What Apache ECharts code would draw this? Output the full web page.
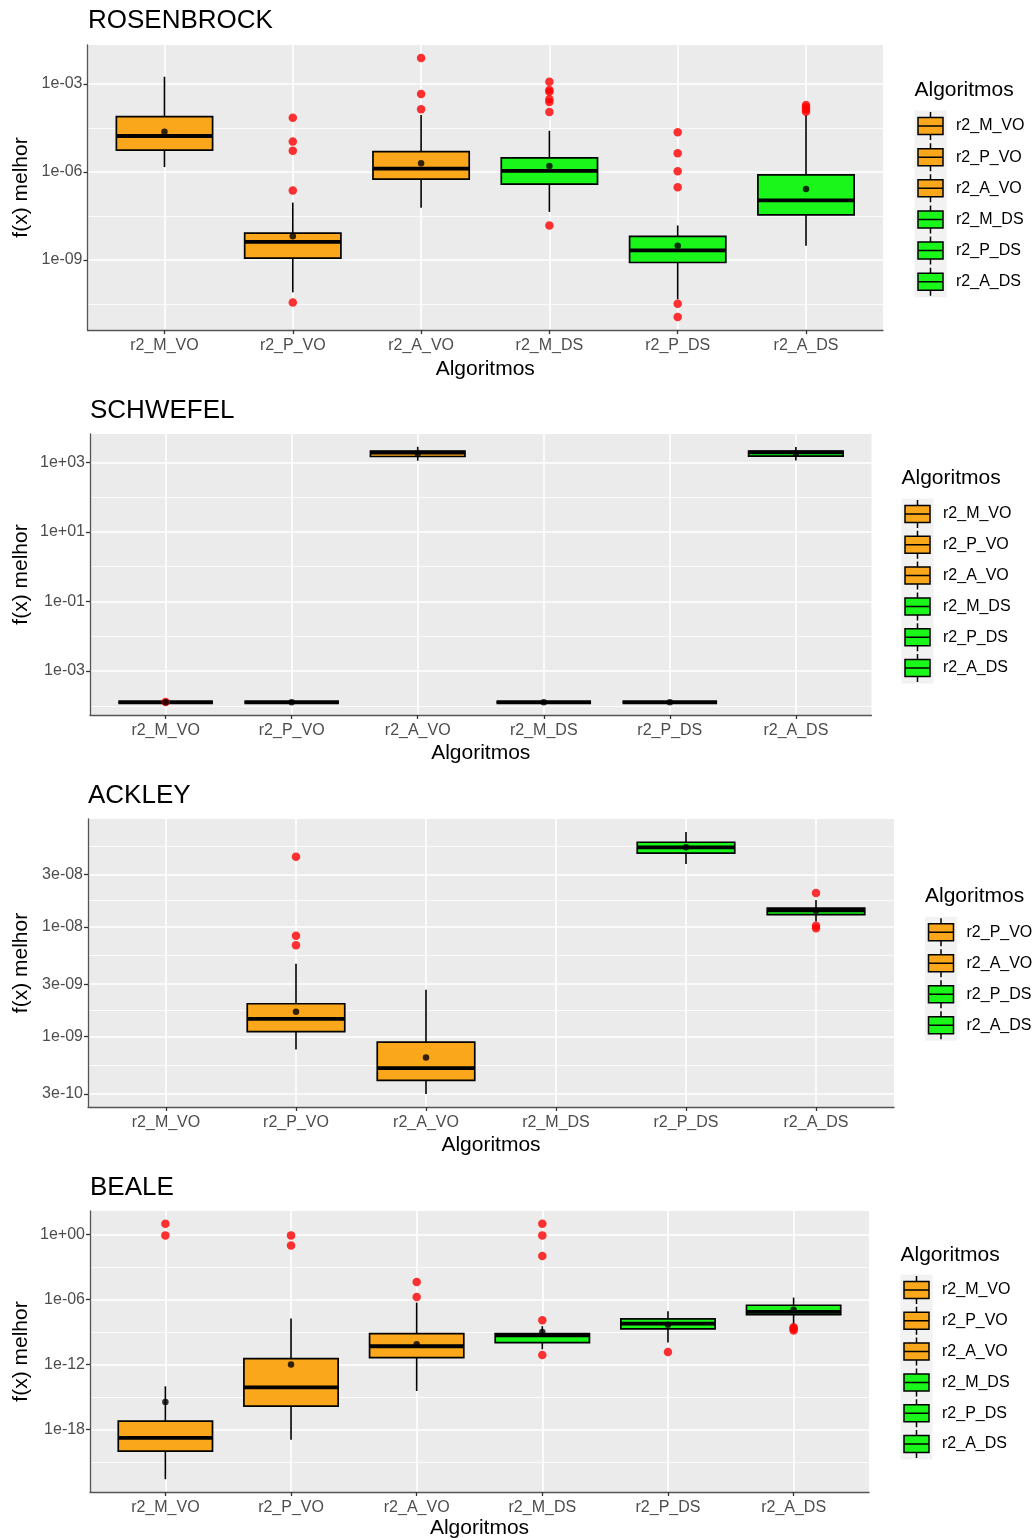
<!DOCTYPE html>
<html>
<head>
<meta charset="utf-8">
<script src="https://cdn.jsdelivr.net/npm/echarts@6/dist/echarts.min.js"></script>
<style>
  html, body { margin: 0; padding: 0; background: #ffffff; }
  #chart { width: 1032px; height: 1539px; }
</style>
</head>
<body>
<div id="chart"></div>
<script>
// ---- data -------------------------------------------------------------
const algorithms = ['r2_M_VO', 'r2_P_VO', 'r2_A_VO', 'r2_M_DS', 'r2_P_DS', 'r2_A_DS'];
const fills = ['#FBA71B', '#FBA71B', '#FBA71B', '#1AF51A', '#1AF51A', '#1AF51A'];

// each box: [lower whisker, Q1, median, Q3, upper whisker]
const rosenbrockBoxes = [
  [1.45e-6, 5.5e-6, 1.66e-5, 7.6e-5, 1.74e-3],
  [7.8e-11, 1.15e-9, 4.1e-9, 8.1e-9, 8.9e-8],
  [6.0e-8, 5.6e-7, 1.29e-6, 4.9e-6, 8.7e-5],
  [4.3e-8, 3.8e-7, 1.07e-6, 3.0e-6, 2.5e-5],
  [4.5e-11, 8.1e-10, 2.1e-9, 6.3e-9, 1.48e-8],
  [3.0e-9, 3.4e-8, 1.07e-7, 7.8e-7, 8.7e-5]
];
const rosenbrockMeans = [2.3e-5, 6.3e-9, 1.95e-6, 1.58e-6, 3.0e-9, 2.6e-7];
const rosenbrockOutliers = [
  [],
  [6.9e-5, 1.07e-5, 5.2e-6, 2.3e-7, 3.5e-11],
  [7.6e-3, 4.5e-4, 1.35e-4],
  [1.17e-3, 6.2e-4, 5.4e-4, 2.95e-4, 2.4e-4, 1.1e-4, 1.48e-8],
  [2.24e-5, 4.3e-6, 1.05e-6, 3.0e-7, 3.2e-11, 1.12e-11],
  [1.9e-4, 1.58e-4, 1.32e-4, 1.12e-4]
];
const rosenbrockTicks = [1e0, 1e-3, 1e-6, 1e-9, 1e-12];
const rosenbrockTickLabels = ['1e+00', '1e-03', '1e-06', '1e-09', '1e-12'];

const schwefelBoxes = [
  [1.27e-4, 1.27e-4, 1.27e-4, 1.27e-4, 1.27e-4],
  [1.27e-4, 1.27e-4, 1.27e-4, 1.27e-4, 1.27e-4],
  [1.11e3, 1.47e3, 1.90e3, 2.11e3, 2.80e3],
  [1.27e-4, 1.27e-4, 1.27e-4, 1.27e-4, 1.27e-4],
  [1.27e-4, 1.27e-4, 1.27e-4, 1.27e-4, 1.27e-4],
  [1.12e3, 1.50e3, 1.92e3, 2.10e3, 2.75e3]
];
const schwefelMeans = [1.27e-4, 1.27e-4, 1.79e3, 1.27e-4, 1.27e-4, 1.80e3];
const schwefelOutliers = [[1.28e-4], [], [], [], [], []];
const schwefelTicks = [1e5, 1e3, 1e1, 1e-1, 1e-3, 1e-5];
const schwefelTickLabels = ['1e+05', '1e+03', '1e+01', '1e-01', '1e-03', '1e-05'];

const ackleyBoxes = [
  null,
  [7.6e-10, 1.11e-9, 1.45e-9, 1.99e-9, 4.6e-9],
  [3.0e-10, 3.98e-10, 5.15e-10, 8.9e-10, 2.67e-9],
  null,
  [3.73e-8, 4.7e-8, 5.3e-8, 5.9e-8, 7.3e-8],
  [1.12e-8, 1.29e-8, 1.41e-8, 1.48e-8, 1.76e-8]
];
const ackleyMeans = [null, 1.68e-9, 6.45e-10, null, 5.3e-8, 1.4e-8];
const ackleyOutliers = [[], [4.35e-8, 8.3e-9, 6.8e-9], [], [], [], [2.03e-8, 1.02e-8, 9.7e-9]];
const ackleyTicks = [1e-7, 3e-8, 1e-8, 3e-9, 1e-9, 3e-10, 1e-10];
const ackleyTickLabels = ['1e-07', '3e-08', '1e-08', '3e-09', '1e-09', '3e-10', '1e-10'];

const bealeBoxes = [
  [2.75e-23, 1.07e-20, 1.8e-19, 6.3e-18, 1.0e-14],
  [1.2e-19, 1.5e-16, 7.9e-15, 3.5e-12, 1.78e-8],
  [3.7e-15, 4.4e-12, 4.9e-11, 7.2e-10, 5.2e-7],
  [2.6e-11, 1.07e-10, 5.0e-10, 7.2e-10, 3.5e-9],
  [1.07e-10, 1.95e-9, 6.0e-9, 1.62e-8, 8.3e-8],
  [4.0e-9, 4.1e-8, 7.2e-8, 2.95e-7, 1.5e-6]
];
const bealeMeans = [3.5e-16, 1.0e-12, 7.4e-11, 1.0e-9, 4.6e-9, 1.15e-7];
const bealeOutliers = [
  [9.5, 0.81],
  [0.81, 0.095],
  [4.0e-5, 1.74e-6],
  [9.5, 0.81, 0.01, 1.23e-8, 7.8e-12],
  [1.45e-11],
  [2.8e-9, 2.0e-9, 1.4e-9]
];
const bealeTicks = [1e6, 1e0, 1e-6, 1e-12, 1e-18, 1e-24];
const bealeTickLabels = ['1e+06', '1e+00', '1e-06', '1e-12', '1e-18', '1e-24'];

// ---- layout -------------------------------------------------------------
const FONT = '"Liberation Sans", Arial, Helvetica, sans-serif';
const BOX_WIDTH = 0.75;
const KEY_W = 25, KEY_H = 28, KEY_STROKE = 1.5;
// legend key: whiskers, box split by the median line
const KEY_ICON = 'path://M12.5,0V5.5M0,5.5H25V14H0ZM0,14H25V22.5H0ZM12.5,22.5V28';

const panels = [
  { title: 'ROSENBROCK', boxes: rosenbrockBoxes, means: rosenbrockMeans, outliers: rosenbrockOutliers,
    ticks: rosenbrockTicks, tickLabels: rosenbrockTickLabels,
    left: 87.5, right: 883, top: 45, bottom: 330, titleX: 88, titleY: 21, xTitleY: 369,
    legendX: 914.5, legendTitleY: 90, keyY: 126, keyStep: 31.15 },
  { title: 'SCHWEFEL', boxes: schwefelBoxes, means: schwefelMeans, outliers: schwefelOutliers,
    ticks: schwefelTicks, tickLabels: schwefelTickLabels,
    left: 90, right: 871.5, top: 434, bottom: 715, titleX: 90, titleY: 411, xTitleY: 753,
    legendX: 901.5, legendTitleY: 478, keyY: 514, keyStep: 30.8 },
  { title: 'ACKLEY', boxes: ackleyBoxes, means: ackleyMeans, outliers: ackleyOutliers,
    ticks: ackleyTicks, tickLabels: ackleyTickLabels,
    left: 88, right: 894, top: 819, bottom: 1107, titleX: 88, titleY: 796, xTitleY: 1145,
    legendX: 925, legendTitleY: 896, keyY: 932.3, keyStep: 31 },
  { title: 'BEALE', boxes: bealeBoxes, means: bealeMeans, outliers: bealeOutliers,
    ticks: bealeTicks, tickLabels: bealeTickLabels,
    left: 90, right: 869, top: 1211, bottom: 1492, titleX: 90, titleY: 1188, xTitleY: 1528,
    legendX: 900.5, legendTitleY: 1255, keyY: 1290, keyStep: 30.8 }
];

// y range in log10 units, padded 5% like the default continuous scale
function logRange(p) {
  const vals = [];
  p.boxes.forEach(b => { if (b) vals.push(...b); });
  p.means.forEach(m => { if (m != null) vals.push(m); });
  p.outliers.forEach(o => vals.push(...o));
  const logs = vals.map(Math.log10);
  const lo = Math.min(...logs), hi = Math.max(...logs);
  const pad = (hi - lo) * 0.05;
  return [lo - pad, hi + pad];
}

function renderBox(params, api) {
  const x = api.value(0);
  const ys = [1, 2, 3, 4, 5].map(d => api.coord([x, api.value(d)])[1]);
  const cx = api.coord([x, api.value(3)])[0];
  const half = api.size([BOX_WIDTH, 0])[0] / 2;
  const color = api.visual('color');
  const seg = (x1, y1, x2, y2, w) => ({
    type: 'line', shape: { x1, y1, x2, y2 }, style: { stroke: '#000000', lineWidth: w }
  });
  return {
    type: 'group',
    children: [
      seg(cx, ys[4], cx, ys[3], 1.6),
      seg(cx, ys[1], cx, ys[0], 1.6),
      { type: 'rect', shape: { x: cx - half, y: ys[3], width: 2 * half, height: ys[1] - ys[3] },
        style: { fill: color, stroke: '#000000', lineWidth: 1.7 } },
      seg(cx - half, ys[2], cx + half, ys[2], 3.8)
    ]
  };
}

const option = {
  animation: false,
  backgroundColor: '#ffffff',
  textStyle: { fontFamily: FONT },
  grid: [], xAxis: [], yAxis: [], series: [], legend: [], graphic: []
};

const catIdx = algorithms.map((_, k) => k);

panels.forEach((p, i) => {
  const [yMin, yMax] = logRange(p);
  const majors = p.ticks.map(Math.log10);
  const minors = majors.slice(1).map((v, k) => (v + majors[k]) / 2);

  option.grid.push({
    left: p.left, top: p.top, width: p.right - p.left, height: p.bottom - p.top,
    show: true, backgroundColor: '#EBEBEB', borderWidth: 0,
    containLabel: false, outerBoundsMode: 'none'
  });

  option.xAxis.push({
    gridIndex: i, type: 'value', min: -0.6, max: algorithms.length - 0.4,
    axisLine: { show: true, onZero: false, lineStyle: { color: '#555555', width: 1.3 } },
    axisTick: { show: true, customValues: catIdx, length: 4, lineStyle: { color: '#333333', width: 1.3 } },
    axisLabel: { customValues: catIdx, formatter: v => algorithms[Math.round(v)], margin: 8,
                 fontSize: 16, color: '#4D4D4D', fontFamily: FONT },
    splitLine: { show: true, lineStyle: { color: '#ffffff', width: 1.6 } }
  });

  option.yAxis.push({
    gridIndex: i, type: 'value', min: yMin, max: yMax,
    axisLine: { show: true, onZero: false, lineStyle: { color: '#555555', width: 1.3 } },
    axisTick: { show: true, customValues: majors, length: 4, lineStyle: { color: '#333333', width: 1.3 } },
    axisLabel: {
      customValues: majors, margin: 5, fontSize: 16, color: '#4D4D4D', fontFamily: FONT,
      formatter: v => {
        let best = 0;
        majors.forEach((m, k) => { if (Math.abs(m - v) < Math.abs(majors[best] - v)) best = k; });
        return p.tickLabels[best];
      }
    },
    splitLine: { show: true, lineStyle: { color: '#ffffff', width: 1.6 } }
  });
  // minor grid lines
  option.yAxis.push({
    gridIndex: i, type: 'value', min: yMin, max: yMax, position: 'left',
    axisLine: { show: false },
    axisTick: { show: false, customValues: minors },
    axisLabel: { show: false, customValues: minors },
    splitLine: { show: true, lineStyle: { color: '#ffffff', width: 0.8 } }
  });

  const legendNames = [];
  algorithms.forEach((name, k) => {
    const b = p.boxes[k];
    if (!b) return;
    legendNames.push(name);
    option.series.push({
      type: 'custom', name, coordinateSystem: 'cartesian2d',
      xAxisIndex: i, yAxisIndex: 2 * i, z: 2,
      itemStyle: { color: fills[k] },
      renderItem: renderBox,
      encode: { x: 0, y: [1, 2, 3, 4, 5] },
      data: [[k, ...b.map(Math.log10)]]
    });
  });

  const outlierPts = [];
  p.outliers.forEach((list, k) => list.forEach(v => outlierPts.push([k, Math.log10(v)])));
  option.series.push({
    type: 'scatter', name: 'outliers', xAxisIndex: i, yAxisIndex: 2 * i, z: 3,
    symbol: 'circle', symbolSize: 8.5, itemStyle: { color: '#FF0000' },
    data: outlierPts
  });

  const meanPts = [];
  p.means.forEach((v, k) => { if (v != null) meanPts.push([k, Math.log10(v)]); });
  option.series.push({
    type: 'scatter', name: 'mean', xAxisIndex: i, yAxisIndex: 2 * i, z: 4,
    symbol: 'circle', symbolSize: 6.5, itemStyle: { color: '#000000' },
    data: meanPts
  });

  // the stroke widens each key's box by KEY_STROKE
  const keyOuter = KEY_H + KEY_STROKE;
  option.legend.push({
    orient: 'vertical', left: p.legendX + 3.5 - KEY_STROKE / 2, top: p.keyY - keyOuter / 2, padding: 0,
    itemWidth: KEY_W, itemHeight: KEY_H, itemGap: p.keyStep - keyOuter,
    icon: KEY_ICON, selectedMode: false, data: legendNames,
    itemStyle: { color: 'inherit', borderColor: '#000000', borderWidth: KEY_STROKE },
    textStyle: { fontSize: 16, color: '#000000', fontFamily: FONT, padding: [0, 0, 0, 8] }
  });

  const cx = (p.left + p.right) / 2;
  const cy = (p.top + p.bottom) / 2;
  option.graphic.push(
    { type: 'rect', z: -1,
      shape: { x: p.legendX, y: p.keyY - p.keyStep / 2, width: 32, height: p.keyStep * legendNames.length },
      style: { fill: '#F2F2F2' } },
    { type: 'text', x: p.titleX, y: p.titleY,
      style: { text: p.title, fontSize: 26, fontFamily: FONT, fill: '#000000', verticalAlign: 'middle' } },
    { type: 'text', x: 21, y: cy, rotation: Math.PI / 2,
      style: { text: 'f(x) melhor', fontSize: 21, fontFamily: FONT, fill: '#000000', align: 'center', verticalAlign: 'middle' } },
    { type: 'text', x: cx, y: p.xTitleY,
      style: { text: 'Algoritmos', fontSize: 21, fontFamily: FONT, fill: '#000000', align: 'center', verticalAlign: 'middle' } },
    { type: 'text', x: p.legendX, y: p.legendTitleY,
      style: { text: 'Algoritmos', fontSize: 21, fontFamily: FONT, fill: '#000000', verticalAlign: 'middle' } }
  );
});

const chart = echarts.init(document.getElementById('chart'), null, { renderer: 'canvas' });
chart.setOption(option);
</script>
</body>
</html>
